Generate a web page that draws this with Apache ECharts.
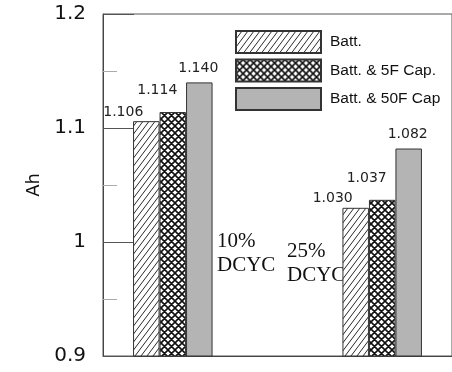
<!DOCTYPE html>
<html>
<head>
<meta charset="utf-8">
<script src="https://cdn.jsdelivr.net/npm/echarts@6/dist/echarts.min.js"></script>
<style>
html,body{margin:0;padding:0;background:#fff;}
#c{width:452px;height:372px;}
</style>
</head>
<body>
<div id="c"></div>
<script>
// ---- data ----
const categories = ['', '10% DCYC', '', '', '25% DCYC', ''];
const seriesNames = ['Batt.', 'Batt. & 5F Cap.', 'Batt. & 50F Cap'];
const battValues = [null, 1.106, null, null, 1.030, null];
const batt5FValues = [null, 1.114, null, null, 1.037, null];
const batt50FValues = [null, 1.140, null, null, 1.082, null];
const yTicks = [0.9, 1.0, 1.1, 1.2];
const annotations = ['10%\nDCYC', '25%\nDCYC'];

// ---- patterns ----
function hatchPattern() {
  const w = 6, h = 8;
  const c = document.createElement('canvas');
  c.width = w; c.height = h;
  const g = c.getContext('2d');
  g.fillStyle = '#fff'; g.fillRect(0, 0, w, h);
  g.strokeStyle = '#2a2a2a'; g.lineWidth = 1;
  g.beginPath();
  const s = h / w;
  g.moveTo(-1, h + s); g.lineTo(w + 1, -s);
  g.moveTo(-1, s); g.lineTo(1, -s);
  g.moveTo(w - 1, h + s); g.lineTo(w + 1, h - s);
  g.stroke();
  return c;
}
function crossPattern() {
  const p = 7;
  const c = document.createElement('canvas');
  c.width = p; c.height = p;
  const g = c.getContext('2d');
  g.fillStyle = '#fff'; g.fillRect(0, 0, p, p);
  g.strokeStyle = '#111'; g.lineWidth = 1.6;
  g.beginPath();
  for (let k = -1; k <= 1; k++) {
    g.moveTo(-1, -1 + p * k); g.lineTo(p + 1, p + 1 + p * k);
    g.moveTo(-1, p + 1 + p * k); g.lineTo(p + 1, -1 + p * k);
  }
  g.stroke();
  return c;
}

const fills = [
  { image: hatchPattern(), repeat: 'repeat' },
  { image: crossPattern(), repeat: 'repeat' },
  '#b4b4b4'
];
const labelOffsets = [[-23, -2], [-15.5, -14.5], [-1, -7.5]];
const valueSets = [battValues, batt5FValues, batt50FValues];

const numFont = 'DejaVu Sans';

const chart = echarts.init(document.getElementById('c'), null, { renderer: 'canvas' });
chart.setOption({
  animation: false,
  backgroundColor: '#fff',
  grid: {
    left: 103, top: 14, bottom: 16, right: -6,
    show: true, borderColor: '#555', borderWidth: 1, backgroundColor: 'transparent'
  },
  legend: {
    orient: 'vertical',
    left: 230, top: 25,
    itemWidth: 85, itemHeight: 22, itemGap: 4.5,
    icon: 'rect',
    data: seriesNames,
    textStyle: {
      fontFamily: "'Liberation Sans', Arial, sans-serif",
      fontSize: 15.5, color: '#111', padding: [0, 0, 0, 4]
    }
  },
  xAxis: {
    type: 'category',
    data: categories,
    boundaryGap: false,
    axisLine: { show: true, lineStyle: { color: '#444', width: 1 } },
    axisTick: { show: false },
    axisLabel: { show: false },
    splitLine: { show: false }
  },
  yAxis: {
    type: 'value',
    min: yTicks[0], max: yTicks[yTicks.length - 1], interval: 0.1,
    name: 'Ah', nameLocation: 'middle', nameRotate: 90, nameGap: 60,
    nameTextStyle: { fontFamily: numFont, fontSize: 18, color: '#111' },
    axisLine: { show: true, lineStyle: { color: '#444', width: 1 } },
    axisTick: { show: true, inside: true, length: 31, lineStyle: { color: '#555', width: 1 } },
    minorTick: { show: true, splitNumber: 2, length: 14, lineStyle: { color: '#aaa', width: 1 } },
    axisLabel: {
      margin: 17, fontFamily: numFont, fontSize: 20, color: '#111',
      formatter: v => String(Math.round(v * 10) / 10)
    },
    splitLine: { show: false }
  },
  series: seriesNames.map((name, i) => ({
    name: name,
    type: 'bar',
    data: valueSets[i],
    barWidth: 26.5,
    barGap: '0%',
    itemStyle: { color: fills[i], borderColor: '#333', borderWidth: 1 },
    label: {
      show: true, position: 'top', distance: 0,
      offset: labelOffsets[i],
      fontFamily: numFont, fontSize: 14, color: '#222',
      formatter: p => (p.value == null ? '' : Number(p.value).toFixed(3))
    }
  })),
  graphic: [
    { type: 'text', left: 217, top: 229, style: { text: annotations[0], font: '21px "Liberation Serif"', fill: '#111', lineHeight: 24 } },
    { type: 'text', left: 287, top: 239, style: { text: annotations[1], font: '21px "Liberation Serif"', fill: '#111', lineHeight: 24 } }
  ]
});
</script>
</body>
</html>
